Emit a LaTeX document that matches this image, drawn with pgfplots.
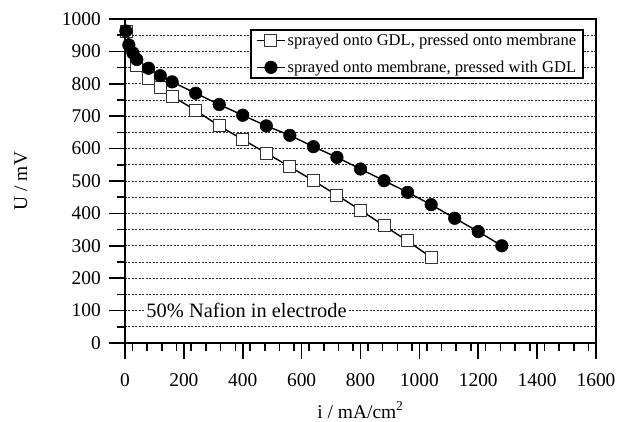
\documentclass[border=0pt]{standalone}
\usepackage{fontspec}
\setmainfont{Liberation Serif}
\usepackage{pgfplots}
\pgfplotsset{compat=1.18}
\begin{document}
\begin{tikzpicture}
\useasboundingbox (-125bp,-79bp) rectangle (493bp,343bp);
\begin{axis}[
  scale only axis, width=471bp, height=324bp,
  at={(0,0)}, anchor=south west,
  xmin=0, xmax=1600, ymin=0, ymax=1000,
  xtick={0,200,...,1600}, ytick={0,100,...,1000},
  minor ytick={50,150,...,950},
  xtick align=outside, ytick align=outside,
  xtick pos=bottom, ytick pos=left,
  major tick length=16bp, minor tick length=8bp,
  major tick style={draw=none},
  minor tick style={draw=none},
  axis line style={line width=1.8bp},
  ymajorgrids, yminorgrids,
  major grid style={dash pattern=on 2bp off 1.5bp, line width=0.7bp, black!85},
  minor grid style={dash pattern=on 2bp off 1.5bp, line width=0.7bp, black!85},
  tick label style={font=\fontsize{19.5}{21}\selectfont},
  yticklabel style={inner sep=0pt, anchor=east, xshift=-8bp},
  xticklabel style={inner sep=0pt, anchor=north, yshift=-14bp},
  /pgf/number format/assume math mode=true,
  /pgf/number format/1000 sep={},
  xlabel={i / mA/cm\textsuperscript{2}},
  ylabel={U / mV},
  label style={font=\fontsize{19.5}{21}\selectfont},
  xlabel style={at={(axis description cs:0.5,0)}, anchor=base, yshift=-75bp},
  ylabel style={at={(axis description cs:-0.221,0.5)}, anchor=center},
  legend style={at={(1,1)}, anchor=north east, xshift=-12bp, yshift=-10bp,
    draw=black, line width=1.8bp, font=\fontsize{16.6}{18}\selectfont,
    inner xsep=5bp, inner ysep=3bp, row sep=12bp,
    nodes={inner xsep=2bp, inner ysep=1bp}},
  legend cell align=left,
  legend image code/.code={\draw[mark repeat=2,mark phase=2] plot coordinates {(0bp,0bp)(14bp,0bp)(28bp,0bp)};},
  clip=false,
]
\addplot[black, line width=1.4bp, mark=square*, mark size=6bp,
  mark options={fill=white, draw=black!80, line width=1bp, solid}]
  coordinates {(5,960)(40,855)(80,815)(120,789)(160,762)(240,718)(320,670)(400,628)(480,586)(560,544)(640,501)(720,456)(800,410)(880,362)(960,315)(1040,264)};
\addlegendentry{sprayed onto GDL, pressed onto membrane}
\addplot[black, line width=1.4bp, mark=*, mark size=6.3bp,
  mark options={fill=black, draw=black, line width=0.5bp, solid}]
  coordinates {(3,963)(13,920)(27,895)(40,875)(80,848)(120,825)(160,806)(240,771)(320,736)(400,703)(480,670)(560,641)(640,606)(720,573)(800,537)(880,501)(960,465)(1040,427)(1120,385)(1200,344)(1280,300)};
\addlegendentry{sprayed onto membrane, pressed with GDL}
\node[fill=white, inner sep=1.5bp, font=\fontsize{20.5}{22}\selectfont] at (axis cs:413,100) {50\% Nafion in electrode};
\end{axis}
% tick marks (axis frame decoration, 471bp x 324bp box)
\foreach \k in {0,...,8} {\draw[black, line width=1.6bp] ({\k*58.875bp},0) -- ++(0,-16bp);}
\foreach \k in {0,...,31} {\draw[black, line width=1.6bp] ({(\k+0.5)*14.71875bp},0) -- ++(0,-8bp);}
\foreach \k in {0,...,10} {\draw[black, line width=1.6bp] (0,{\k*32.4bp}) -- ++(-16bp,0);}
\foreach \k in {0,...,9} {\draw[black, line width=1.6bp] (0,{(\k+0.5)*32.4bp}) -- ++(-8bp,0);}
\end{tikzpicture}
\end{document}
